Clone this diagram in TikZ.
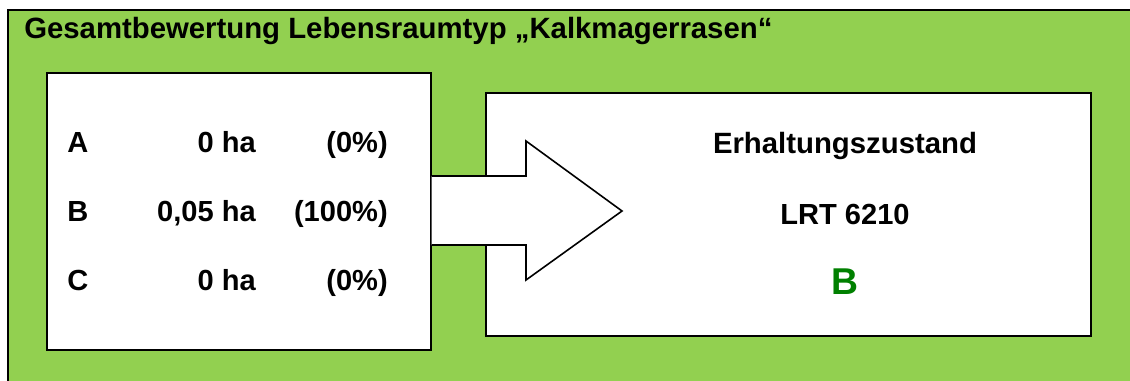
\documentclass[tikz,border=0pt]{standalone}
\usepackage{fontspec}
\setmainfont{Liberation Sans}
\definecolor{lawn}{HTML}{92D050}
\definecolor{gradeB}{HTML}{008000}
\begin{document}
\begin{tikzpicture}[x=0.75pt,y=-0.75pt,
  frame/.style={draw=black, fill=lawn, line width=1.6pt},
  panel/.style={draw=black, fill=white, line width=1.2pt, inner sep=0pt, anchor=north west},
  txt/.style={inner sep=0pt, font=\bfseries\fontsize{21.8}{26}\selectfont},
  headtxt/.style={inner sep=0pt, font=\bfseries\fontsize{22}{26}\selectfont},
  grade/.style={inner sep=0pt, text=gradeB, font=\bfseries\fontsize{28}{34}\selectfont}]
\useasboundingbox (0,0) rectangle (1130,381);
\clip (0,0) rectangle (1130,381);
% green background frame, running off the right and bottom edges
\path[frame] (8,10) rectangle (1160,400);
\node[headtxt, anchor=base west] (title) at (24,39) {Gesamtbewertung Lebensraumtyp „Kalkmagerrasen“};
% the two white panels
\node[panel, minimum width=288pt, minimum height=207.75pt] (left) at (46,72) {};
\node[panel, minimum width=453.75pt, minimum height=182.25pt] (right) at (485,92) {};
% block arrow from the left panel into the right one
\coordinate (st) at (left.east |- 0,176);
\coordinate (sb) at (left.east |- 0,245);
\fill[white] (st) -- (526,176) -- (526,141) -- (622,211) -- (526,280) -- (526,245) -- (sb) -- cycle;
\draw[line width=1.2pt, line join=miter] (st) -- (526,176) -- (526,141) -- (622,211) -- (526,280) -- (526,245) -- (sb);
% area per grade
\node[txt, anchor=base west] (ga) at (67,152) {A};
\node[txt, anchor=base east] (ha) at (256,152) {0 ha};
\node[txt, anchor=base east] (pa) at (388,152) {(0\%)};
\node[txt, anchor=base west] (gb) at (67,221) {B};
\node[txt, anchor=base east] (hb) at (256,221) {0,05 ha};
\node[txt, anchor=base east] (pb) at (388,221) {(100\%)};
\node[txt, anchor=base west] (gc) at (67,290) {C};
\node[txt, anchor=base east] (hc) at (256,290) {0 ha};
\node[txt, anchor=base east] (pc) at (388,290) {(0\%)};
% overall result
\node[headtxt, anchor=base] (ez) at (845,153) {Erhaltungszustand};
\node[txt, anchor=base] (lrt) at (845,224) {LRT 6210};
\node[grade, anchor=base] (res) at (845,294) {B};
\end{tikzpicture}
\end{document}
